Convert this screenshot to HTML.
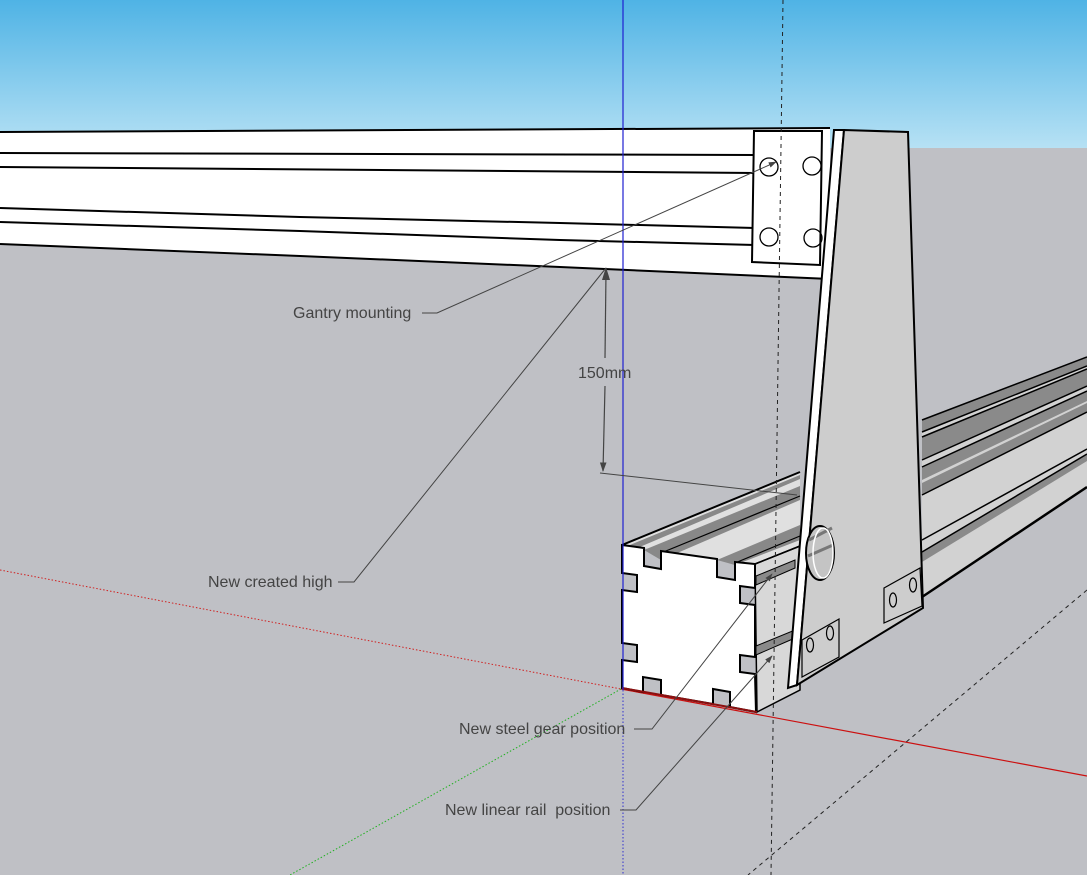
<!DOCTYPE html>
<html><head><meta charset="utf-8"><style>
html,body{margin:0;padding:0;width:1087px;height:875px;overflow:hidden;background:#bfc0c5}
svg{display:block}
text{font-family:"Liberation Sans",sans-serif;font-size:16px;fill:#444;white-space:pre}
</style></head><body>
<svg width="1087" height="875" viewBox="0 0 1087 875" xmlns="http://www.w3.org/2000/svg">
<defs>
<linearGradient id="sky" x1="0" y1="0" x2="0" y2="1">
<stop offset="0" stop-color="#4fb3e5"/><stop offset="1" stop-color="#b6e1f4"/>
</linearGradient>
<marker id="ar" viewBox="0 0 10 10" refX="9" refY="5" markerWidth="8" markerHeight="8" orient="auto"><path d="M0,1.5 L10,5 L0,8.5 z" fill="#444"/></marker>
</defs>
<rect x="0" y="0" width="1087" height="148" fill="url(#sky)"/>
<rect x="0" y="148" width="1087" height="727" fill="#bfc0c5"/>

<line x1="0" y1="570" x2="621" y2="689" stroke="#d02020" stroke-width="1" stroke-dasharray="1.5,2"/>
<line x1="621" y1="689" x2="290" y2="875" stroke="#20b020" stroke-width="1" stroke-dasharray="1.5,2"/>
<line x1="623" y1="690" x2="623" y2="875" stroke="#3030d0" stroke-width="1" stroke-dasharray="1.5,2"/>
<line x1="621" y1="689" x2="1087" y2="776" stroke="#cc1010" stroke-width="1.2"/>
<line x1="1087" y1="590" x2="748" y2="875" stroke="#222" stroke-width="1" stroke-dasharray="4,4"/>

<polygon points="0,132 830,128 830,279 560,267 300,256 0,244" fill="#fff"/>
<g stroke="#000" stroke-width="2" fill="none">
<polyline points="0,132 830,128"/>
<polyline points="0,153 755,155"/>
<polyline points="0,167 755,173"/>
<polyline points="0,208 300,217 560,223 755,228"/>
<polyline points="0,222 300,231 560,240 755,245"/>
<polyline points="0,244 300,256 560,267 830,279"/>
</g>
<polygon points="754,131 822,131 820,265 752,262" fill="#fff" stroke="#000" stroke-width="2"/>
<g fill="none" stroke="#000" stroke-width="1.3">
<circle cx="769" cy="167" r="9"/><circle cx="812" cy="166" r="9"/>
<circle cx="769" cy="237" r="9"/><circle cx="813" cy="238" r="9"/>
</g>

<polygon points="922,420 1087,357 1087,487 922,597" fill="#d2d2d2"/>
<g fill="#8a8a8a">
<polygon points="922,420 1087,357 1087,366 922,432"/>
<polygon points="922,437 1087,369 1087,386 922,460"/>
<polygon points="922,467 1087,391 1087,401 922,480"/>
<polygon points="922,483 1087,403 1087,412 922,495"/>
<polygon points="922,552 1087,454 1087,461 922,562"/>
</g>
<g stroke="#000" stroke-width="1.5" fill="none">
<line x1="922" y1="420" x2="1087" y2="357"/><line x1="922" y1="432" x2="1087" y2="366"/>
<line x1="922" y1="437" x2="1087" y2="369"/><line x1="922" y1="460" x2="1087" y2="386"/>
<line x1="922" y1="467" x2="1087" y2="391"/><line x1="922" y1="495" x2="1087" y2="412"/>
<line x1="922" y1="540" x2="1087" y2="449"/><line x1="922" y1="552" x2="1087" y2="454"/>
<line x1="922" y1="597" x2="1087" y2="487" stroke-width="2.5"/>
</g>

<polygon points="622,545 800,472 800,548 755,564" fill="#e0e0e0"/>
<g fill="#888">
<polygon points="644,550 800,486 800,500 661,560"/>
<polygon points="717,560 800,525 800,540 735,565"/>
<polygon points="625,547 800,475 800,479 635,549"/>
</g>
<g stroke="#000" stroke-width="1.2">
<line x1="661" y1="553" x2="800" y2="496"/>
<line x1="735" y1="563" x2="800" y2="536"/>
</g>
<polygon points="755,564 800,546 800,690 757,712" fill="#d8d8d8" stroke="#000" stroke-width="1.5"/>
<g fill="#8a8a8a" stroke="#000" stroke-width="1">
<polygon points="756,576 795,560 795,568 756,585"/>
<polygon points="756,646 795,630 795,638 756,655"/>
</g>
<line x1="622" y1="545" x2="800" y2="472" stroke="#000" stroke-width="2"/>
<line x1="755" y1="564" x2="800" y2="546" stroke="#000" stroke-width="1.5"/>
<path d="M622,545 L644,548 L644,566 L661,569 L661,551 L717,559 L717,577 L735,580 L735,562 L755,564 L755,588 L740,586 L740,603 L755,605 L755,657 L740,655 L740,672 L755,674 L756,712 L730,707 L730,692 L713,689 L713,704 L661,695 L661,680 L643,677 L643,692 L622,688 L622,660 L637,662 L637,645 L622,643 L622,590 L637,592 L637,575 L622,573 Z" fill="#fff" stroke="#000" stroke-width="2" stroke-linejoin="miter"/>
<line x1="622" y1="688" x2="757" y2="712" stroke="#8b1010" stroke-width="2"/>

<polygon points="834,130 844,130 797,685 788,688" fill="#fff" stroke="#000" stroke-width="2"/>
<polygon points="844,130 908,132 923,608 797,685" fill="#cdcdcd" stroke="#000" stroke-width="2"/>
<ellipse cx="820" cy="553" rx="14" ry="27" fill="#c4c4c4" stroke="#000" stroke-width="2"/>
<path d="M809,540 L832,528 M808,556 L833,545" stroke="#777" stroke-width="3"/>
<ellipse cx="823" cy="553" rx="10" ry="25" fill="none" stroke="#fff" stroke-width="1.5"/>
<g fill="none" stroke="#000" stroke-width="1.2">
<polygon points="802,640 839,619 839,657 802,677"/>
<ellipse cx="810" cy="645" rx="3.5" ry="7"/><ellipse cx="830" cy="633" rx="3.5" ry="7"/>
<polygon points="884,588 920,568 922,606 884,623"/>
<ellipse cx="893" cy="600" rx="3.5" ry="7"/><ellipse cx="913" cy="585" rx="3.5" ry="7"/>
</g>

<line x1="623" y1="0" x2="623" y2="690" stroke="#2020d0" stroke-width="1.2"/>
<line x1="783" y1="0" x2="771" y2="875" stroke="#222" stroke-width="1" stroke-dasharray="4,4"/>

<line x1="600" y1="473" x2="797" y2="495" stroke="#444" stroke-width="1"/>
<line x1="606" y1="272" x2="605" y2="358" stroke="#444" stroke-width="1.2"/>
<line x1="605" y1="386" x2="603" y2="471" stroke="#444" stroke-width="1.2" marker-end="url(#ar)"/>
<path d="M606,267 l-4,13 l8,0 z" fill="#444"/>
<text x="578" y="378">150mm</text>

<text x="293" y="318">Gantry mounting</text>
<polyline points="422,313 437,313 776,162" fill="none" stroke="#444" stroke-width="1" marker-end="url(#ar)"/>
<text x="208" y="587">New created high</text>
<polyline points="338,582 354,582 606,268" fill="none" stroke="#444" stroke-width="1"/>
<text x="459" y="734">New steel gear position</text>
<polyline points="634,729 652,729 772,574" fill="none" stroke="#444" stroke-width="1" marker-end="url(#ar)"/>
<text x="445" y="815">New linear rail&#160; position</text>
<polyline points="620,810 636,810 772,656" fill="none" stroke="#444" stroke-width="1" marker-end="url(#ar)"/>
</svg>
</body></html>
